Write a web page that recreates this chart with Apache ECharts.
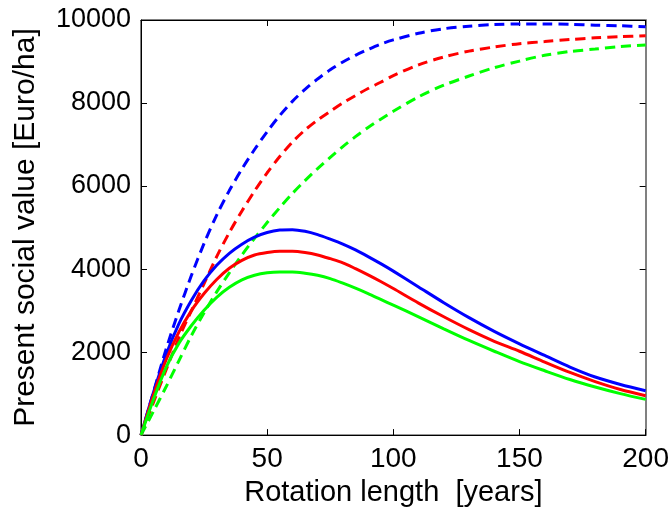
<!DOCTYPE html>
<html>
<head>
<meta charset="utf-8">
<script src="https://cdn.jsdelivr.net/npm/echarts@6/dist/echarts.min.js"></script>
<style>
html,body{margin:0;padding:0;background:#fff;}
#chart{width:672px;height:512px;}
</style>
</head>
<body>
<div id="chart"></div>
<script>
var years = [0,5,10,15,20,25,30,35,40,45,50,55,60,65,70,75,80,85,90,95,100,110,120,130,140,150,160,170,180,190,200];
var xTicks = [0,50,100,150,200];
var yTicks = [0,2000,4000,6000,8000,10000];

var blueSolid  = [0,1040,1950,2680,3250,3720,4090,4380,4600,4770,4880,4940,4950,4910,4830,4720,4600,4460,4300,4130,3950,3570,3190,2830,2500,2200,1920,1640,1400,1220,1070];
var redSolid   = [0,980,1820,2480,3000,3410,3750,4020,4210,4340,4400,4430,4430,4400,4340,4250,4150,4010,3860,3700,3530,3180,2850,2540,2260,2020,1760,1510,1290,1100,950];
var greenSolid = [0,870,1640,2210,2640,3010,3320,3560,3740,3850,3910,3930,3930,3900,3850,3770,3660,3540,3410,3270,3130,2850,2560,2280,2020,1770,1550,1340,1160,1000,860];

var blueDashed  = [0,1050,2080,3000,3850,4620,5300,5890,6410,6880,7310,7700,8040,8330,8580,8800,8990,9150,9290,9420,9520,9680,9790,9850,9890,9905,9905,9895,9875,9860,9840];
var redDashed   = [0,800,1580,2340,3000,3650,4300,4880,5400,5880,6320,6710,7060,7350,7590,7800,8000,8180,8350,8500,8660,8920,9110,9250,9350,9430,9480,9530,9570,9600,9620];
var greenDashed = [0,580,1170,1790,2400,2950,3450,3910,4340,4740,5120,5480,5820,6130,6420,6690,6950,7190,7410,7610,7800,8150,8430,8650,8850,9010,9150,9240,9300,9360,9400];

function pairs(vals){ return years.map(function(x,i){ return [x, vals[i]]; }); }

var FONT = "'Liberation Sans', Arial, sans-serif";

function line(data, color, dashed){
  return {
    type:'line', data: pairs(data), smooth:0.3, showSymbol:false, symbol:'none',
    lineStyle:{color:color, width:3, type: dashed ? [10,6] : 'solid'},
    itemStyle:{color:color}, animation:false, z: dashed ? 3 : 4
  };
}
function plain(v){ return String(v); }

var chart = echarts.init(document.getElementById('chart'));
chart.setOption({
  backgroundColor:'#fff',
  animation:false,
  grid:{left:141, right:26, top:20, bottom:73, show:true, borderColor:'#000', borderWidth:1, backgroundColor:'transparent'},
  xAxis:[{
    type:'value', min:xTicks[0], max:xTicks[xTicks.length-1], interval:50,
    name:'Rotation length  [years]', nameLocation:'middle', nameGap:40,
    nameTextStyle:{fontSize:29, color:'#000', fontFamily:FONT},
    axisLine:{onZero:false, lineStyle:{color:'#000', width:1}},
    axisTick:{inside:true, length:6, lineStyle:{color:'#000'}},
    axisLabel:{fontSize:28, color:'#000', fontFamily:FONT, margin:10, formatter:plain},
    splitLine:{show:false}
  },{
    type:'value', position:'top', min:0, max:200, interval:50,
    axisLine:{show:true, onZero:false, lineStyle:{color:'#000', width:1}},
    axisTick:{inside:true, length:6, lineStyle:{color:'#000'}},
    axisLabel:{show:false}, splitLine:{show:false}
  }],
  yAxis:[{
    type:'value', min:yTicks[0], max:yTicks[yTicks.length-1], interval:2000,
    name:'Present social value [Euro/ha]', nameLocation:'middle', nameGap:100,
    nameTextStyle:{fontSize:30, color:'#000', fontFamily:FONT},
    axisLine:{show:true, onZero:false, lineStyle:{color:'#000', width:1}},
    axisTick:{show:true, inside:true, length:6, lineStyle:{color:'#000'}},
    axisLabel:{fontSize:27, color:'#000', fontFamily:FONT, margin:10, formatter:plain},
    splitLine:{show:false}
  },{
    type:'value', position:'right', min:0, max:10000, interval:2000,
    axisLine:{show:true, onZero:false, lineStyle:{color:'#808080', width:2}},
    axisTick:{show:true, inside:true, length:6, lineStyle:{color:'#000'}},
    axisLabel:{show:false}, splitLine:{show:false}
  }],
  series:[
    line(blueDashed,'#0000ff',true),
    line(redDashed,'#ff0000',true),
    line(greenDashed,'#00ff00',true),
    line(blueSolid,'#0000ff',false),
    line(redSolid,'#ff0000',false),
    line(greenSolid,'#00ff00',false)
  ]
});
</script>
</body>
</html>
